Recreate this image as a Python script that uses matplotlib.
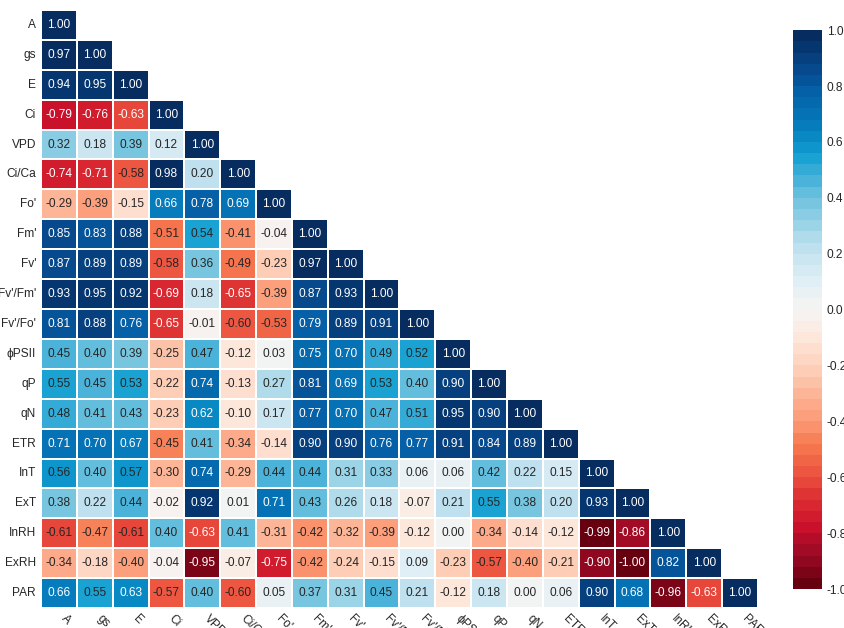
import numpy as np
import matplotlib
matplotlib.use('Agg')
import matplotlib.pyplot as plt
from matplotlib.colors import LinearSegmentedColormap, ListedColormap
import seaborn as sns

# variable names, same order on both axes
labels = ['A', 'gs', 'E', 'Ci', 'VPD', 'Ci/Ca', "Fo'", "Fm'", "Fv'", "Fv'/Fm'",
          "Fv'/Fo'", '\u03d5PSII', 'qP', 'qN', 'ETR', 'InT', 'ExT', 'InRH', 'ExRH', 'PAR']

# lower triangle of the correlation matrix, one row per variable
r_A = [1.00]
r_gs = [0.97, 1.00]
r_E = [0.94, 0.95, 1.00]
r_Ci = [-0.79, -0.76, -0.63, 1.00]
r_VPD = [0.32, 0.18, 0.39, 0.12, 1.00]
r_CiCa = [-0.74, -0.71, -0.58, 0.98, 0.20, 1.00]
r_Fo = [-0.29, -0.39, -0.15, 0.66, 0.78, 0.69, 1.00]
r_Fm = [0.85, 0.83, 0.88, -0.51, 0.54, -0.41, -0.04, 1.00]
r_Fv = [0.87, 0.89, 0.89, -0.58, 0.36, -0.49, -0.23, 0.97, 1.00]
r_FvFm = [0.93, 0.95, 0.92, -0.69, 0.18, -0.65, -0.39, 0.87, 0.93, 1.00]
r_FvFo = [0.81, 0.88, 0.76, -0.65, -0.01, -0.60, -0.53, 0.79, 0.89, 0.91, 1.00]
r_PSII = [0.45, 0.40, 0.39, -0.25, 0.47, -0.12, 0.03, 0.75, 0.70, 0.49, 0.52, 1.00]
r_qP = [0.55, 0.45, 0.53, -0.22, 0.74, -0.13, 0.27, 0.81, 0.69, 0.53, 0.40, 0.90, 1.00]
r_qN = [0.48, 0.41, 0.43, -0.23, 0.62, -0.10, 0.17, 0.77, 0.70, 0.47, 0.51, 0.95, 0.90, 1.00]
r_ETR = [0.71, 0.70, 0.67, -0.45, 0.41, -0.34, -0.14, 0.90, 0.90, 0.76, 0.77, 0.91, 0.84, 0.89, 1.00]
r_InT = [0.56, 0.40, 0.57, -0.30, 0.74, -0.29, 0.44, 0.44, 0.31, 0.33, 0.06, 0.06, 0.42, 0.22,
         0.15, 1.00]
r_ExT = [0.38, 0.22, 0.44, -0.02, 0.92, 0.01, 0.71, 0.43, 0.26, 0.18, -0.07, 0.21, 0.55, 0.38,
         0.20, 0.93, 1.00]
r_InRH = [-0.61, -0.47, -0.61, 0.40, -0.63, 0.41, -0.31, -0.42, -0.32, -0.39, -0.12, 0.00, -0.34,
          -0.14, -0.12, -0.99, -0.86, 1.00]
r_ExRH = [-0.34, -0.18, -0.40, -0.04, -0.95, -0.07, -0.75, -0.42, -0.24, -0.15, 0.09, -0.23, -0.57,
          -0.40, -0.21, -0.90, -1.00, 0.82, 1.00]
r_PAR = [0.66, 0.55, 0.63, -0.57, 0.40, -0.60, 0.05, 0.37, 0.31, 0.45, 0.21, -0.12, 0.18, 0.00,
         0.06, 0.90, 0.68, -0.96, -0.63, 1.00]

cbar_ticks = [-1.0, -0.8, -0.6, -0.4, -0.2, 0.0, 0.2, 0.4, 0.6, 0.8, 1.0]

rows = [r_A, r_gs, r_E, r_Ci, r_VPD, r_CiCa, r_Fo, r_Fm, r_Fv, r_FvFm, r_FvFo, r_PSII,
        r_qP, r_qN, r_ETR, r_InT, r_ExT, r_InRH, r_ExRH, r_PAR]

n = len(labels)
corr = np.zeros((n, n))
for i, r in enumerate(rows):
    corr[i, :len(r)] = r
corr = corr + np.tril(corr, -1).T
mask = np.triu(np.ones_like(corr, dtype=bool), k=1)

# red -> white -> cyan/blue, cut into 50 steps
anchors = [(0.00, '#67000f'), (0.05, '#9a0a24'), (0.10, '#c8102c'), (0.15, '#dc2c31'),
           (0.20, '#ec5340'), (0.25, '#f6794f'), (0.30, '#fb9c78'), (0.35, '#fcb89a'),
           (0.40, '#fdd3bf'), (0.45, '#fde7dc'), (0.50, '#f6f5f4'), (0.55, '#e2eff6'),
           (0.60, '#c8e4f0'), (0.65, '#a0d5e8'), (0.70, '#72c3de'), (0.75, '#3daed7'),
           (0.78, '#14a0d1'), (0.80, '#0c92ca'), (0.85, '#0476b8'), (0.90, '#055fa6'),
           (0.95, '#064688'), (1.00, '#062c60')]
base = LinearSegmentedColormap.from_list('rdcy', anchors)
cmap = ListedColormap(base(np.linspace(0, 1, 50)))

sns.set_style('white')
plt.rcParams['font.family'] = ['Liberation Sans', 'DejaVu Sans']

fig = plt.figure(figsize=(8.45, 6.28), dpi=100)
ax = fig.add_axes([0.0485, 0.0318, 0.8485, 0.9523])
cax = fig.add_axes([0.9385, 0.062, 0.0343, 0.890])

sns.heatmap(corr, mask=mask, cmap=cmap, vmin=-1, vmax=1, annot=True, fmt='.2f',
            annot_kws={'size': 8.6}, linewidths=0.3, linecolor='white',
            xticklabels=labels, yticklabels=labels, ax=ax, cbar_ax=cax)

# white numbers only on the strongest cells
for t in ax.texts:
    v = float(t.get_text())
    t.set_color('white' if abs(v) >= 0.62 else '#262626')

ax.tick_params(length=0, labelsize=8.6)
plt.setp(ax.get_xticklabels(), rotation=-45, ha='left', va='top')
plt.setp(ax.get_yticklabels(), rotation=0)

cax.set_yticks(cbar_ticks)
cax.set_yticklabels(['%.1f' % t for t in cbar_ticks])
cax.tick_params(length=0, labelsize=8.6)

fig.savefig('out.png', dpi=100)
